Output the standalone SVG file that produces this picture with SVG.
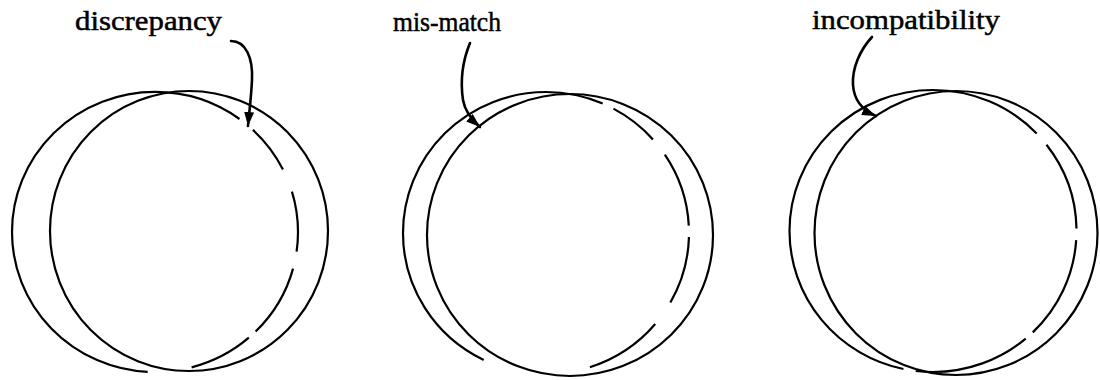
<svg xmlns="http://www.w3.org/2000/svg" width="1100" height="380" viewBox="0 0 1100 380">
  <style>
    .ring { fill: none; stroke: #000; stroke-width: 2.2; }
    .lbl { font-family: "Liberation Serif", "Times New Roman", serif; font-size: 28px; fill: #000; stroke: #000; stroke-width: 0.5; }
    .arr { fill: none; stroke: #000; stroke-width: 2.6; stroke-linecap: round; }
  </style>
  <defs>
    <marker id="head" markerUnits="userSpaceOnUse" markerWidth="16" markerHeight="12" refX="14" refY="5" orient="auto">
      <path d="M0,0 L14,5 L0,10 Z" fill="#000"/>
    </marker>
  </defs>
  <rect width="1100" height="380" fill="#fff"/>

  <g id="fig1">
    <ellipse class="ring" cx="189" cy="231" rx="139" ry="140"/>
    <path class="ring" pathLength="360" stroke-dasharray="8 7 30 3.7 26.3 18 213.5 7 20.2 9.7 16.6" d="M298,232 A143,140 0 1 1 12,232 A143,140 0 1 1 298,232 Z"/>
    <text class="lbl" x="75" y="30" textLength="147" lengthAdjust="spacingAndGlyphs">discrepancy</text>
  </g>

  <g id="fig2">
    <ellipse class="ring" cx="570" cy="235" rx="143" ry="141"/>
    <path class="ring" pathLength="360" stroke-dasharray="0 1.6 27.8 10.6 32 44 177.5 4.8 20.3 7.8 30.6 3" d="M689,233 A143,141 0 1 1 403,233 A143,141 0 1 1 689,233 Z"/>
    <text class="lbl" x="393" y="31" textLength="108" lengthAdjust="spacingAndGlyphs">mis-match</text>
  </g>

  <g id="fig3">
    <ellipse class="ring" cx="956" cy="233" rx="141.5" ry="142"/>
    <path class="ring" pathLength="360" stroke-dasharray="0 3.7 42 3.8 47.5 5 214.5 6 36.5 1" d="M1076.5,231 A143.5,141 0 1 1 789.5,231 A143.5,141 0 1 1 1076.5,231 Z"/>
    <text class="lbl" x="812" y="29" textLength="188" lengthAdjust="spacingAndGlyphs">incompatibility</text>
  </g>

  <g id="connectors">
    <path class="arr" marker-end="url(#head)" d="M231,41 C246,41 253,58 252,80 C251,100 249,114 248,126"/>
    <path class="arr" marker-end="url(#head)" d="M470,43 C463,60 460,80 463,100 C465,112 472,120 480,127"/>
    <path class="arr" marker-end="url(#head)" d="M872,37 C860,50 852,68 853,85 C854,100 862,110 876,116"/>
  </g>
</svg>
